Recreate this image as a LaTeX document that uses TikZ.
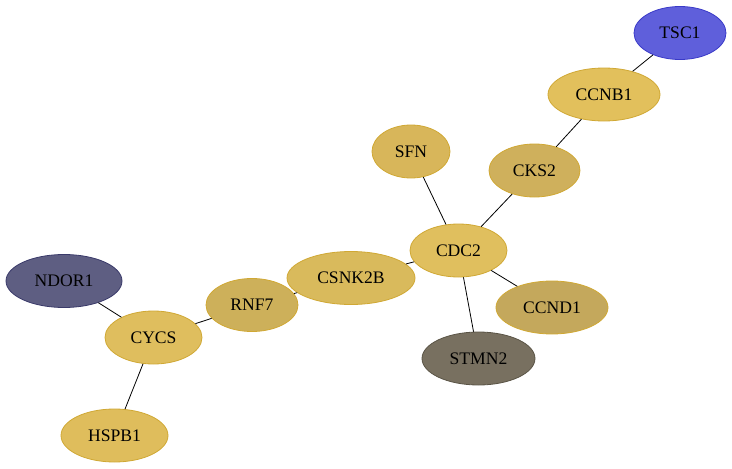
\documentclass[tikz,border=0pt]{standalone}
\usepackage{fontspec}
\setmainfont{Liberation Serif}
\usetikzlibrary{shapes.geometric}
\definecolor{goldline}{HTML}{D0A834}
\begin{document}
\begin{tikzpicture}[x=1pt,y=-1pt,
	gene/.style={ellipse,draw=goldline,line width=0.8pt,inner sep=0pt,minimum height=53pt,font=\fontsize{17.6}{20}\selectfont},
	link/.style={black,line width=0.8pt}]
	\useasboundingbox (0,0) rectangle (732,469);
	\node[gene,fill={rgb,255:red,95;green,95;blue,219},draw={rgb,255:red,58;green,58;blue,200},minimum width=92pt] (tsc) at (680,33) {TSC1};
	\node[gene,fill={rgb,255:red,226;green,192;blue,92},minimum width=112pt] (ccnb) at (604,94.5) {CCNB1};
	\node[gene,fill={rgb,255:red,207;green,176;blue,92},minimum width=91pt] (cks) at (534.5,170.5) {CKS2};
	\node[gene,fill={rgb,255:red,216;green,182;blue,90},minimum width=78pt] (sfn) at (411,151.5) {SFN};
	\node[gene,fill={rgb,255:red,224;green,191;blue,94},minimum width=97pt] (cdc) at (458.5,250.5) {CDC2};
	\node[gene,fill={rgb,255:red,217;green,186;blue,92},minimum width=128pt] (csnk) at (351,278) {CSNK2B};
	\node[gene,fill={rgb,255:red,196;green,168;blue,92},minimum width=112pt] (ccnd) at (552,307.5) {CCND1};
	\node[gene,fill={rgb,255:red,120;green,112;blue,96},draw={rgb,255:red,90;green,84;blue,70},minimum width=113pt] (stmn) at (478.5,358.5) {STMN2};
	\node[gene,fill={rgb,255:red,205;green,176;blue,90},minimum width=92pt] (rnf) at (252,305) {RNF7};
	\node[gene,fill={rgb,255:red,94;green,94;blue,130},draw={rgb,255:red,58;green,58;blue,106},minimum width=116pt] (ndor) at (64,281) {NDOR1};
	\node[gene,fill={rgb,255:red,223;green,190;blue,94},minimum width=97pt] (cycs) at (153.5,337.5) {CYCS};
	\node[gene,fill={rgb,255:red,223;green,189;blue,92},minimum width=107pt] (hspb) at (114.5,435.5) {HSPB1};
	\foreach \a/\b in {tsc/ccnb,ccnb/cks,cks/cdc,sfn/cdc,cdc/csnk,cdc/ccnd,cdc/stmn,csnk/rnf,rnf/cycs,ndor/cycs,cycs/hspb}
		\draw[link] (\a) -- (\b);
\end{tikzpicture}
\end{document}
